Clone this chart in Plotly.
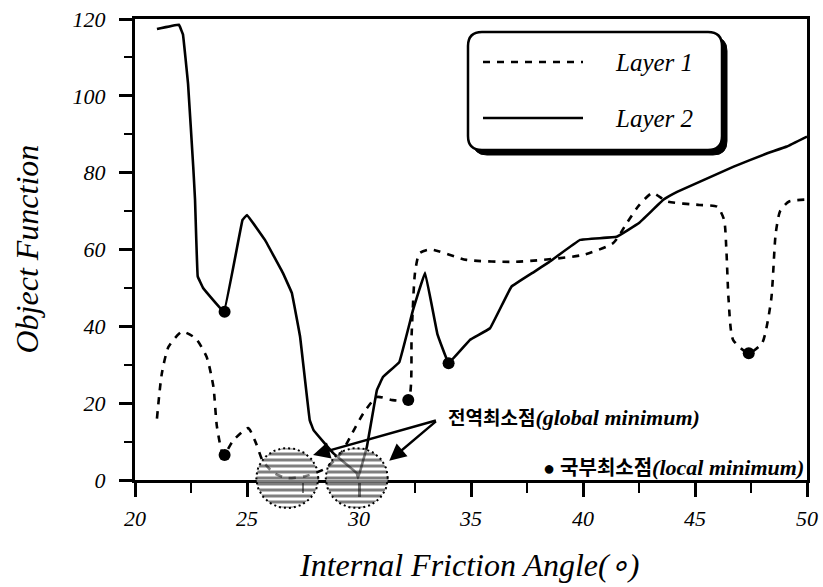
import numpy as np
import plotly.graph_objects as go

# ---------------- data ----------------
layer1_x = [20.98, 21.2, 21.5, 22.1, 22.7, 23.2, 23.5, 23.66, 23.95, 24.4, 25.05, 25.4, 25.7,
            26.2, 26.8, 27.6, 28.5, 29.2, 29.7, 30.2, 30.8, 31.5, 32.2, 32.35, 32.5, 32.7,
            33.2, 34.8, 37.0, 40.0, 41.35, 41.96, 42.5, 43.1, 43.75, 45.2, 46.0, 46.3, 46.4,
            46.5, 46.7, 47.4, 48.0, 48.4, 48.6, 48.8, 49.2, 50.0]
layer1_y = [16, 27.8, 34.7, 38.6, 36.9, 32, 24.3, 13.8, 6.5, 10.4, 13.5, 9.6, 5,
            1.8, 0.5, 1.0, 3.0, 7.0, 12.2, 17.4, 21.6, 20.8, 20.8, 38, 53.9, 59,
            60, 57.3, 56.8, 58.6, 61.7, 66.9, 71.5, 74.7, 72.5, 71.6, 71.1, 67.7, 60,
            46.9, 36.5, 33, 35.7, 46.9, 64, 70, 72.5, 73]

layer2_x = [20.98, 21.96, 22.14, 22.37, 22.6, 22.68, 22.8, 23.04, 23.97, 24.8, 25.0, 25.8,
            26.6, 27.0, 27.37, 27.8, 27.97, 28.85, 29.9, 29.96, 30.35, 30.8, 31.07, 31.8,
            32.4, 32.95, 33.5, 34.0, 34.96, 35.85, 36.8, 37.77, 38.5, 39.87, 41.5, 42.5,
            43.6, 44.2, 46.7, 48.2, 49.1, 50.0]
layer2_y = [117.4, 118.5, 116, 103, 81.5, 73, 53, 50, 43.8, 67.7, 69, 62.5,
            53.9, 48.7, 37.3, 15.6, 13, 7, 1.8, 0.5, 8.6, 23.4, 26.8, 30.7,
            44, 54, 38, 30.4, 36.5, 39.5, 50.3, 54, 56.8, 62.5, 63.3, 66.9,
            73, 75, 81.5, 85, 86.8, 89.4]

local_min_x = [24.0, 32.2, 47.4, 24.0, 34.0]
local_min_y = [6.5, 20.8, 33.0, 43.8, 30.4]

global_min_x = [26.8, 29.9]
global_min_y = [0.5, 0.5]

x_ticks = [20, 25, 30, 35, 40, 45, 50]
y_ticks = [0, 20, 40, 60, 80, 100, 120]

# ---------------- geometry ----------------
W, H = 823, 587
L, R, T, B0, BF = 135, 807, 19, 480, 520   # pixels: left, right, top, y=0 line, bottom of overlay
XR = [20, 50]
YR = [0, 120]
ppu_y = (B0 - T) / (YR[1] - YR[0])
ppu_x = (R - L) / (XR[1] - XR[0])
dom_main = [(BF - B0) / (BF - T), 1.0]
y2_lo = YR[1] - (BF - T) / ppu_y


def px(x):
    return (x - L) / (R - L)


def py(y):
    return (BF - y) / (BF - T)


def rrect(x0, y0, x1, y1, r):
    rx, ry = r / (R - L), r / (BF - T)
    a, b, c, d = px(x0), py(y0), px(x1), py(y1)  # b top, d bottom (paper)
    return (f"M{a+rx},{b} L{c-rx},{b} Q{c},{b} {c},{b-ry} L{c},{d+ry} Q{c},{d} {c-rx},{d} "
            f"L{a+rx},{d} Q{a},{d} {a},{d+ry} L{a},{b-ry} Q{a},{b} {a+rx},{b} Z")


SERIF = "Liberation Serif"
MIX = "Liberation Serif, Noto Sans CJK KR"

fig = go.Figure()

# hatched circles around the global minima (overlay axes reaching below y=0)
rx_d = 31 / ppu_x
ry_d = 30 / ppu_y
t = np.linspace(0, 2 * np.pi, 73)
for gx, gy in zip(global_min_x, global_min_y):
    fig.add_trace(go.Scatter(
        x=gx + rx_d * np.cos(t), y=gy + ry_d * np.sin(t), xaxis="x2", yaxis="y2",
        mode="lines", fill="toself", line=dict(color="black", width=2, dash="2px,3px"),
        fillcolor="rgba(0,0,0,0)",
        fillpattern=dict(shape="-", fgcolor="black", bgcolor="rgba(255,255,255,0.5)",
                         size=6, solidity=0.5),
        hoverinfo="skip", showlegend=False))

fig.add_trace(go.Scatter(x=layer1_x, y=layer1_y, mode="lines", name="Layer 1",
                         line=dict(color="black", width=2.6, dash="7px,7px",
                                   shape="spline", smoothing=0.6),
                         showlegend=False))
fig.add_trace(go.Scatter(x=layer2_x, y=layer2_y, mode="lines", name="Layer 2",
                         line=dict(color="black", width=2.6, shape="spline", smoothing=0.15),
                         showlegend=False))
fig.add_trace(go.Scatter(x=local_min_x, y=local_min_y, mode="markers",
                         marker=dict(color="black", size=12), showlegend=False,
                         cliponaxis=False))

axis_font = dict(family=SERIF, size=22, color="black", style="italic")
fig.update_layout(
    width=W, height=H,
    margin=dict(l=L, r=W - R, t=T, b=H - BF, autoexpand=False),
    paper_bgcolor="white", plot_bgcolor="rgba(0,0,0,0)",
    showlegend=False,
    xaxis=dict(range=XR, domain=[0, 1], anchor="y", tickvals=x_ticks,
               ticktext=[f"<i>{v}</i>" for v in x_ticks],
               tickfont=axis_font, automargin=False,
               ticks="outside", ticklen=14, tickwidth=2.5, tickcolor="black",
               minor=dict(dtick=2.5, tick0=20, ticks="outside", ticklen=10, tickwidth=2,
                          tickcolor="black"),
               showline=True, linecolor="black", linewidth=3, mirror=True,
               showgrid=False, zeroline=False, ticklabelstandoff=3),
    yaxis=dict(range=YR, domain=dom_main, anchor="x", tickvals=y_ticks,
               ticktext=[f"<i>{v}</i>" for v in y_ticks],
               tickfont=axis_font, automargin=False,
               ticks="outside", ticklen=13, tickwidth=2.5, tickcolor="black",
               minor=dict(dtick=10, tick0=0, ticks="outside", ticklen=8, tickwidth=2,
                          tickcolor="black"),
               showline=True, linecolor="black", linewidth=3, mirror=True,
               showgrid=False, zeroline=False, ticklabelstandoff=9),
    xaxis2=dict(range=XR, domain=[0, 1], anchor="y2", visible=False),
    yaxis2=dict(range=[y2_lo, YR[1]], domain=[0, 1], anchor="x2", visible=False),
)


def label(text, x, y, size, family=SERIF, xanchor="center", angle=0):
    fig.add_annotation(text=text, xref="paper", yref="paper", x=px(x), y=py(y),
                       xanchor=xanchor, yanchor="middle", textangle=angle, showarrow=False,
                       font=dict(family=family, size=size, color="black"))


# axis titles
label("<i>Object Function</i>", 26, (T + B0) / 2, 32, angle=-90)
label("<i>Internal Friction Angle(∘)</i>", (L + R) / 2 - 2, 565, 32)

# legend box (shadow + rounded rectangle)
fig.add_shape(type="path", xref="paper", yref="paper", path=rrect(473, 37, 727, 155, 14),
              fillcolor="black", line=dict(color="black", width=1))
fig.add_shape(type="path", xref="paper", yref="paper", path=rrect(468, 32, 722, 150, 14),
              fillcolor="white", line=dict(color="black", width=2.5))
fig.add_shape(type="line", xref="paper", yref="paper", x0=px(483), x1=px(583),
              y0=py(62), y1=py(62), line=dict(color="black", width=2.6, dash="7px,7px"))
fig.add_shape(type="line", xref="paper", yref="paper", x0=px(483), x1=px(583),
              y0=py(118), y1=py(118), line=dict(color="black", width=2.6))
label("<i>Layer 1</i>", 654, 62, 25)
label("<i>Layer 2</i>", 654, 118, 25)

# global-minimum label with arrows
tail_x, tail_y = 33.5, 15.6
for hx, hy in ((27.95, 6.5), (31.35, 5.0)):
    fig.add_annotation(x=hx, y=hy, ax=tail_x, ay=tail_y, xref="x", yref="y",
                       axref="x", ayref="y", text="", showarrow=True,
                       arrowhead=2, arrowsize=1.4, arrowwidth=2.4, arrowcolor="black")
label("<b>전역최소점<span style='font-size:22px'><i>(global minimum)</i></span></b>",
      446, 417, 19, family=MIX, xanchor="left")
label("<b>● 국부최소점<span style='font-size:22px'><i>(local minimum)</i></span></b>",
      806, 467, 20, family=MIX, xanchor="right")

fig.write_html("out.html")
